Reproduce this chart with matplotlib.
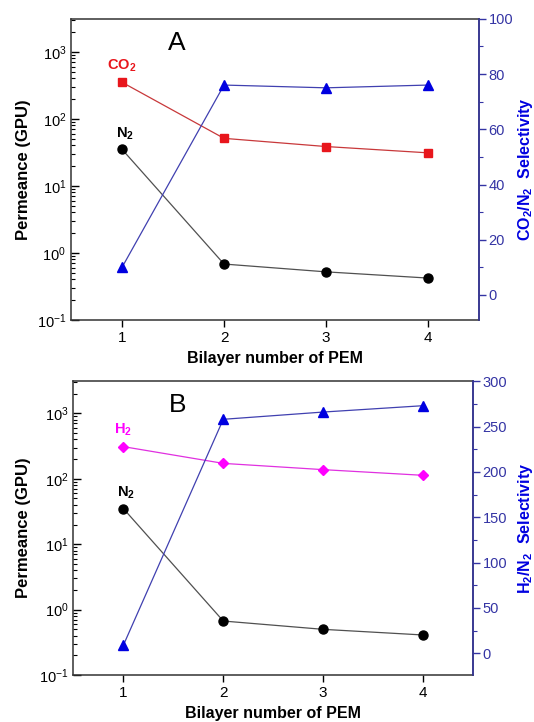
import matplotlib
matplotlib.use('Agg')
import matplotlib.pyplot as plt
from matplotlib.ticker import MultipleLocator, LogLocator, NullFormatter

plt.rcParams['font.family'] = ['Liberation Sans', 'DejaVu Sans']
plt.rcParams['mathtext.fontset'] = 'custom'
plt.rcParams['mathtext.rm'] = 'Liberation Sans'
plt.rcParams['mathtext.bf'] = 'Liberation Sans:bold'

# data
layers = [1, 2, 3, 4]
co2_perm = [350, 51, 38.5, 31]
n2_perm_a = [35, 0.68, 0.52, 0.42]
co2_n2_sel = [10, 76, 75, 76]

h2_perm = [310, 172, 138, 113]
n2_perm_b = [35, 0.67, 0.50, 0.41]
h2_n2_sel = [9, 258, 266, 273]

RED = '#e8161c'
RED_LINE = '#c8383a'
BLUE = '#0000e0'
BLUE_LINE = '#4040b0'
AXBLUE = '#3434a4'
MAGENTA = '#ff00ff'
GREY_LINE = '#505050'

fig = plt.figure(figsize=(5.34, 7.22), dpi=100)


def make_panel(rect, perm_top, perm_label, perm_color, perm_line, perm_marker, perm_ms,
               n2, sel, sel_lim, sel_step, sel_minor, sel_label, letter,
               ylab_x, sel_lab_x):
    ax = fig.add_axes(rect)
    ax.set_yscale('log')
    ax.plot(layers, perm_top, color=perm_line, lw=0.9, marker=perm_marker,
            ms=perm_ms, mfc=perm_color, mec=perm_color, zorder=3)
    ax.plot(layers, n2, color=GREY_LINE, lw=0.9, marker='o', ms=6.5,
            mfc='black', mec='black', zorder=3)
    ax.set_xlim(0.5, 4.5)
    ax.set_ylim(0.1, 3100)
    ax.set_xticks(layers)
    ax.yaxis.set_major_locator(LogLocator(base=10, numticks=10))
    ax.yaxis.set_minor_locator(LogLocator(base=10, subs=range(2, 10), numticks=20))
    ax.yaxis.set_minor_formatter(NullFormatter())
    ax.tick_params(axis='x', direction='out', length=5, width=1, labelsize=11, pad=3)
    ax.tick_params(axis='y', which='major', direction='in', length=6, width=1, labelsize=10.5)
    ax.tick_params(axis='y', which='minor', direction='in', length=3, width=0.8)
    for s in ax.spines.values():
        s.set_linewidth(1.1)
        s.set_color('#333333')
    ax.set_xlabel('Bilayer number of PEM', fontsize=11.5, fontweight='bold', labelpad=4)
    ax.set_ylabel('Permeance (GPU)', fontsize=12, fontweight='bold')
    ax.yaxis.set_label_coords(ylab_x, 0.5)

    ax.text(1.0, perm_top[0] * 1.35, perm_label, color=perm_color, fontsize=10.5,
            fontweight='bold', ha='center', va='bottom')
    ax.text(1.03, n2[0] * 1.3, r'$\mathbf{N_2}$', color='black', fontsize=10.5,
            ha='center', va='bottom')
    ax.text(0.26, 0.96, letter, transform=ax.transAxes, fontsize=19,
            ha='center', va='top')

    ax2 = ax.twinx()
    ax2.plot(layers, sel, color=BLUE_LINE, lw=0.9, marker='^', ms=7.5,
             mfc=BLUE, mec=BLUE, zorder=3)
    ax2.set_ylim(*sel_lim)
    ax2.yaxis.set_major_locator(MultipleLocator(sel_step))
    ax2.yaxis.set_minor_locator(MultipleLocator(sel_minor))
    ax2.tick_params(axis='y', which='major', direction='out', length=5, width=1,
                    colors=AXBLUE, labelsize=10.5, pad=2)
    ax2.tick_params(axis='y', which='minor', direction='out', length=3, width=0.8,
                    colors=AXBLUE)
    ax2.spines['right'].set_color(AXBLUE)
    ax2.spines['right'].set_linewidth(1.1)
    for k in ['left', 'top', 'bottom']:
        ax2.spines[k].set_visible(False)
    ax2.set_ylabel(sel_label, color=BLUE, fontsize=11.5, fontweight='bold')
    ax2.yaxis.set_label_coords(sel_lab_x, 0.5)
    return ax, ax2


make_panel([0.133, 0.557, 0.764, 0.417], co2_perm, r'$\mathbf{CO_2}$', RED, RED_LINE,
           's', 6, n2_perm_a, co2_n2_sel, (-9, 100), 20, 10,
           r'$\mathbf{CO_2/N_2}$  Selectivity', 'A', -0.098, 1.09)
make_panel([0.1376, 0.065, 0.748, 0.407], h2_perm, r'$\mathbf{H_2}$', MAGENTA, '#e030e0',
           'D', 5.5, n2_perm_b, h2_n2_sel, (-24, 300), 50, 25,
           r'$\mathbf{H_2/N_2}$  Selectivity', 'B', -0.106, 1.108)

fig.savefig('out.png', dpi=100)
